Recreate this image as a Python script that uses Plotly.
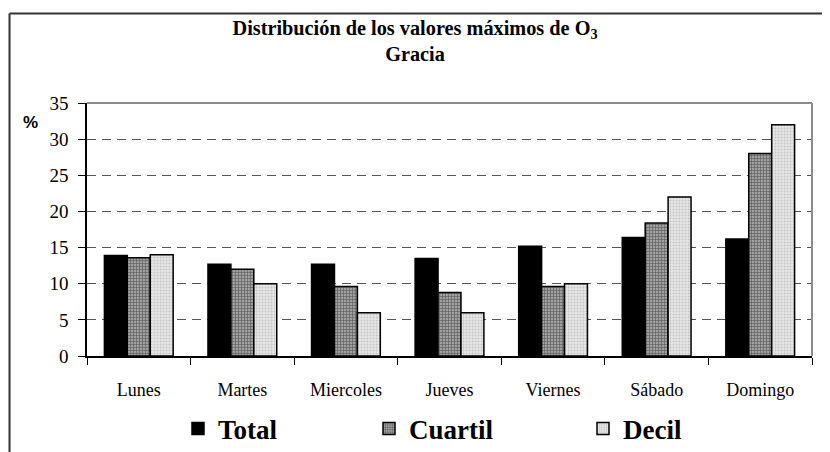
import plotly.graph_objects as go

days = ["Lunes", "Martes", "Miercoles", "Jueves", "Viernes", "Sábado", "Domingo"]
total = [13.9, 12.7, 12.7, 13.5, 15.2, 16.4, 16.2]
cuartil = [13.6, 12.0, 9.6, 8.8, 9.6, 18.4, 28.0]
decil = [14.0, 10.0, 6.0, 6.0, 10.0, 22.0, 32.0]
y_ticks = [0, 5, 10, 15, 20, 25, 30, 35]

W, H = 830, 452
OFF = 8  # page body margin offset
L, T = 87 - OFF, 103 - OFF
R = W - (812 - OFF)
B = H - (356 - OFF)
PW, PH = W - L - R, H - T - B

def px(x):
    return (x - OFF - L) / PW

def py(y):
    return (H - B - (y - OFF)) / PH

SERIF = "Liberation Serif"

fig = go.Figure()
fig.add_trace(go.Bar(
    x=days, y=total, name="<b>Total</b>", legend="legend", showlegend=True,
    marker=dict(color="black", line=dict(color="black", width=1.5)),
))
fig.add_trace(go.Bar(
    x=days, y=cuartil, name="<b>Cuartil</b>", legend="legend2", showlegend=True,
    marker=dict(color="#8a8a8a", line=dict(color="black", width=1.5),
                pattern=dict(shape="+", fgcolor="#222222", bgcolor="#a0a0a0",
                             size=3, solidity=0.4)),
))
fig.add_trace(go.Bar(
    x=days, y=decil, name="<b>Decil</b>", legend="legend3", showlegend=True,
    marker=dict(color="#dcdcdc", line=dict(color="black", width=1.5),
                pattern=dict(shape=".", fgcolor="#a0a0a0", bgcolor="#e6e6e6",
                             size=3, solidity=0.3)),
))

leg_common = dict(orientation="h", yanchor="middle", xanchor="left",
                  y=py(429), bgcolor="rgba(0,0,0,0)", borderwidth=0,
                  font=dict(family=SERIF, size=27, color="black"),
                  itemwidth=30, visible=True)

fig.update_layout(
    width=W, height=H,
    margin=dict(l=L, r=R, t=T, b=B, autoexpand=False),
    paper_bgcolor="white", plot_bgcolor="white",
    showlegend=True,
    barmode="group", bargap=0.336, bargroupgap=0,
    title=dict(text="<b>Distribución de los valores máximos de O<sub>3</sub><br>Gracia</b>",
               x=(415 - OFF) / W, xref="container", xanchor="center",
               y=1 - 27 / H, yref="container", yanchor="top",
               font=dict(family=SERIF, size=20.3, color="black")),
    legend=dict(leg_common, x=px(178)),
    legend2=dict(leg_common, x=px(369)),
    legend3=dict(leg_common, x=px(583)),
    xaxis=dict(
        type="category", tickson="boundaries", ticks="outside", ticklen=7,
        tickcolor="black", showline=True, linecolor="black", linewidth=1.5,
        showgrid=False, ticklabelstandoff=17,
        tickfont=dict(family=SERIF, size=18, color="black"),
    ),
    yaxis=dict(
        range=[0, 35], tickvals=y_ticks, ticks="outside", ticklen=7,
        tickcolor="black", showline=True, linecolor="black", linewidth=1.5,
        showgrid=True, gridcolor="#555555", griddash="9px,6px", gridwidth=1,
        zeroline=False, ticklabelstandoff=6,
        tickfont=dict(family=SERIF, size=19, color="black"),
    ),
    shapes=[
        dict(type="line", xref="paper", yref="paper", x0=0, x1=1, y0=1, y1=1,
             line=dict(color="#8c8c8c", width=2)),
        dict(type="line", xref="paper", yref="paper", x0=1, x1=1, y0=0, y1=1,
             line=dict(color="#8c8c8c", width=2)),
        dict(type="line", xref="paper", yref="paper", x0=px(9.5), x1=px(840),
             y0=py(13.5), y1=py(13.5), line=dict(color="#333333", width=2)),
        dict(type="line", xref="paper", yref="paper", x0=px(9.5), x1=px(9.5),
             y0=py(13.5), y1=py(470), line=dict(color="#333333", width=2)),
    ],
    annotations=[
        dict(text="<b>%</b>", xref="paper", yref="paper", x=px(30), y=py(122),
             showarrow=False, xanchor="center", yanchor="middle",
             font=dict(family="Liberation Sans", size=17, color="black")),
    ],
)

fig.write_html("out.html")
